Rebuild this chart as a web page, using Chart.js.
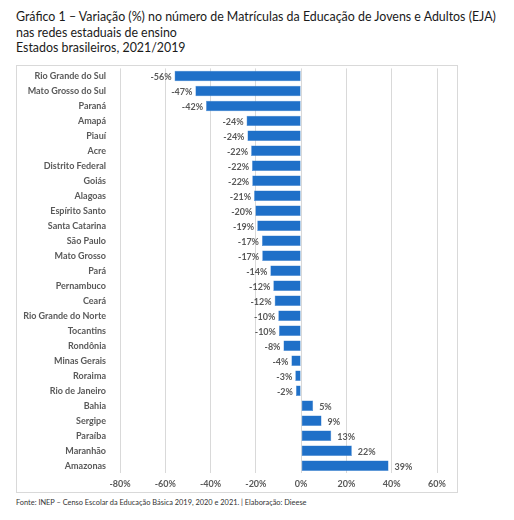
<!DOCTYPE html>
<html>
<head>
<meta charset="utf-8">
<script src="https://cdn.jsdelivr.net/npm/chart.js@4/dist/chart.umd.min.js"></script>
<style>
  body { margin: 0; background: #fff; font-family: Lato, sans-serif; }
  #title { position: absolute; left: 16px; top: 9px; font-size: 12.4px; line-height: 15.5px; color: #1a1a1a; }
  #box { position: absolute; left: 16px; top: 65px; width: 442px; height: 428px; border: 1px solid #d9d9d9; box-sizing: border-box; }
  /* canvas starts a bit above the box: chart.js keeps room over the first label */
  #box canvas { position: absolute; left: 0; top: -9px; }
  #note { position: absolute; left: 16px; top: 498px; font-size: 7.4px; color: #333; }
</style>
</head>
<body>
<div id="title">Gráfico 1 – Variação (%) no número de Matrículas da Educação de Jovens e Adultos (EJA)<br>nas redes estaduais de ensino<br>Estados brasileiros, 2021/2019</div>
<div id="box"><canvas id="myChart" width="440" height="435"></canvas></div>
<div id="note">Fonte: INEP – Censo Escolar da Educação Básica 2019, 2020 e 2021. | Elaboração: Dieese</div>
<script>
/*DATA*/
const estados = ['Rio Grande do Sul', 'Mato Grosso do Sul', 'Paraná', 'Amapá', 'Piauí', 'Acre', 'Distrito Federal',
  'Goiás', 'Alagoas', 'Espírito Santo', 'Santa Catarina', 'São Paulo', 'Mato Grosso', 'Pará', 'Pernambuco',
  'Ceará', 'Rio Grande do Norte', 'Tocantins', 'Rondônia', 'Minas Gerais', 'Roraima', 'Rio de Janeiro',
  'Bahia', 'Sergipe', 'Paraíba', 'Maranhão', 'Amazonas']
const variacao = [-55.9, -46.7, -42.0, -24.1, -23.7, -22.1, -21.7, -21.6, -20.8, -20.2, -19.4, -17.3, -17.2,
  -13.6, -12.3, -11.7, -10.1, -9.8, -7.8, -4.3, -2.6, -2.3, 5.3, 9.0, 13.3, 22.4, 38.6]
const rotulos = ['-56%', '-47%', '-42%', '-24%', '-24%', '-22%', '-22%', '-22%', '-21%', '-20%', '-19%', '-17%', '-17%',
  '-14%', '-12%', '-12%', '-10%', '-10%', '-8%', '-4%', '-3%', '-2%', '5%', '9%', '13%', '22%', '39%']
const ticksX = [-80, -60, -40, -20, 0, 20, 40, 60]

/*BAR LABELS*/
const barLabels = {
    id: 'barLabels',
    afterDatasetsDraw(chart){
        const ctx = chart.ctx
        const meta = chart.getDatasetMeta(0)
        ctx.save()
        ctx.font = 'bold 9px Lato'
        ctx.fillStyle = '#595959'
        ctx.textBaseline = 'middle'
        meta.data.forEach((bar, i) => {
            if(variacao[i] < 0){
                ctx.textAlign = 'right'
                ctx.fillText(rotulos[i], bar.x - 3, bar.y + 1)
            }else{
                ctx.textAlign = 'left'
                ctx.fillText(rotulos[i], bar.x + 6, bar.y + 1)
            }
        })
        ctx.restore()
    }
}

var ctx = document.getElementById('myChart').getContext('2d')
var myChart = new Chart(ctx, {
    type: 'bar',
    data: {
        labels: estados,
        datasets: [{
            data: variacao,
            backgroundColor: '#1f70c8',
            borderColor: '#4a8ad4',
            borderWidth: 0.5,
            borderSkipped: false,
            categoryPercentage: 0.7,
            barPercentage: 1
        }]
    },
    options: {
        indexAxis: 'y',
        responsive: false,
        animation: false,
        layout: { padding: { top: 0, right: 20, bottom: -2, left: 0 } },
        plugins: { legend: { display: false }, tooltip: { enabled: false } },
        scales: {
            x: {
                min: -80,
                max: 60,
                afterBuildTicks: (scale) => { scale.ticks = ticksX.map(v => ({ value: v })) },
                grid: { color: '#d9d9d9', drawTicks: false },
                border: { display: false },
                ticks: {
                    padding: 5,
                    color: '#595959',
                    font: { family: 'Lato', size: 9, weight: 'bold' },
                    callback: (v) => v + '%'
                }
            },
            y: {
                grid: { display: false },
                border: { display: false },
                afterFit: (scale) => { scale.width = 103 },
                ticks: {
                    autoSkip: false,
                    padding: 6,
                    color: '#595959',
                    font: { family: 'Lato', size: 9, weight: 'bold' }
                }
            }
        }
    },
    plugins: [barLabels]
})
</script>
</body>
</html>
